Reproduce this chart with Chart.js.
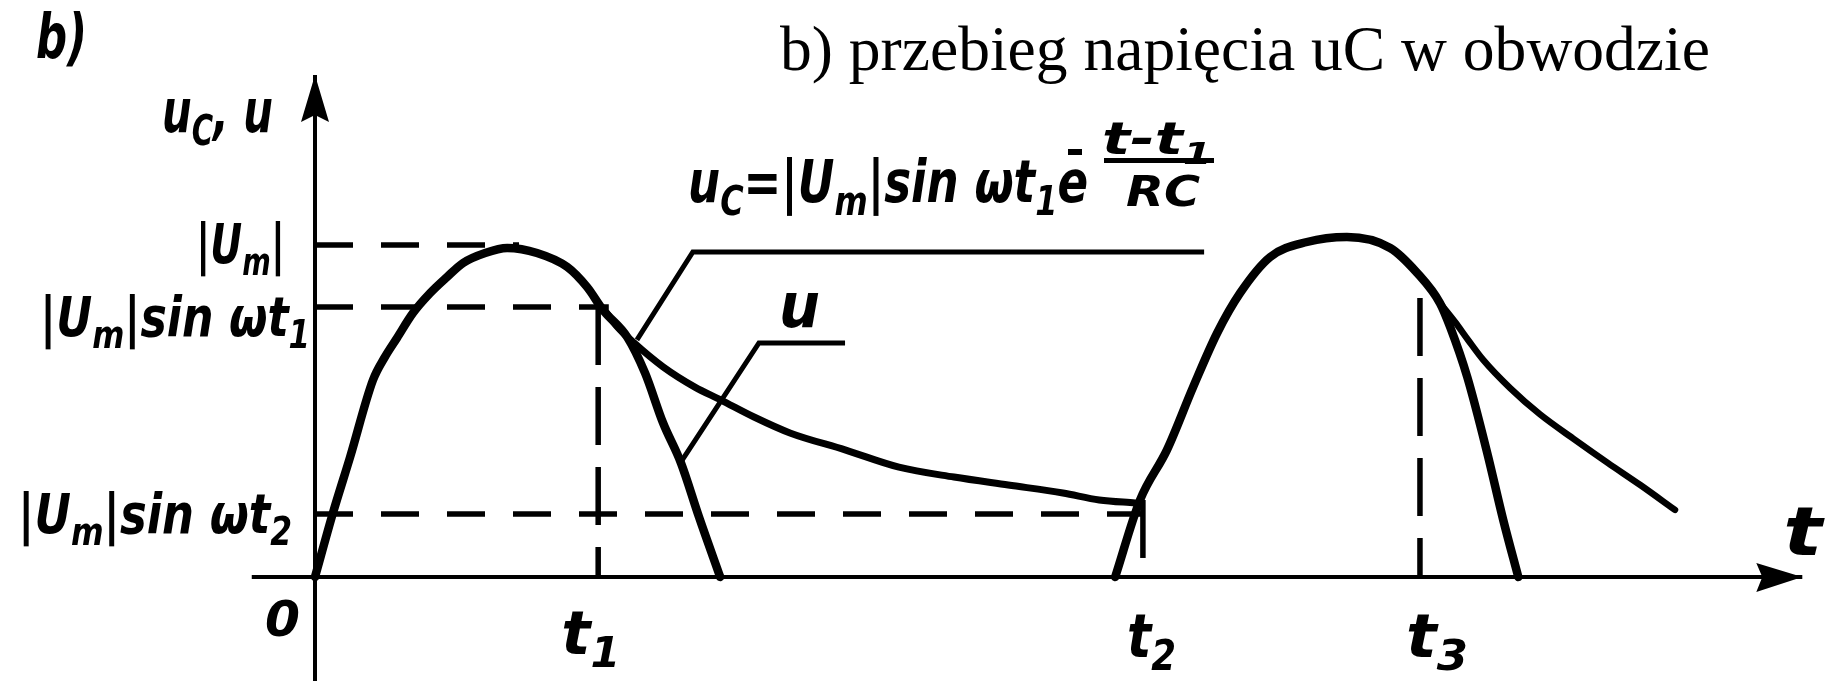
<!DOCTYPE html>
<html lang="pl">
<head>
<meta charset="utf-8">
<title>Przebieg napięcia uC w obwodzie</title>
<script src="https://cdn.jsdelivr.net/npm/chart.js@4/dist/chart.umd.min.js"></script>
<style>
    html, body { margin: 0; padding: 0; background: #fff; }
    #wrap { position: relative; width: 1828px; height: 681px; }
</style>
</head>
<body>
<div id="wrap"><canvas id="wykres"></canvas></div>
<script>
// Czas w umownych jednostkach, napięcie względem |Um| = 1

// pierwsza półfala napięcia źródła u
const sineT1 = [0, 0.44, 0.86, 1.42, 1.7, 2.01, 2.4, 2.82, 3.24, 3.63, 4.17, 4.71, 5.44, 6.18, 6.67, 7.06, 7.65, 8.09, 8.53, 8.97, 9.41, 9.93];
const sineU1 = [0, 0.193, 0.361, 0.593, 0.66, 0.72, 0.795, 0.855, 0.904, 0.946, 0.976, 0.991, 0.976, 0.934, 0.873, 0.804, 0.723, 0.614, 0.464, 0.343, 0.181, 0];

// rozładowanie kondensatora od t1 do t2
const decayT1 = [7.06, 7.4, 7.82, 8.53, 9.31, 9.95, 10.76, 11.64, 12.99, 14.31, 15.66, 16.99, 18.33, 19.22, 20.1];
const decayU1 = [0.81, 0.755, 0.705, 0.633, 0.572, 0.533, 0.482, 0.434, 0.383, 0.331, 0.301, 0.277, 0.253, 0.232, 0.223];

// druga półfala
const sineT2 = [19.61, 20.22, 20.88, 21.52, 22.11, 22.67, 23.41, 24.31, 25.29, 26.35, 27.01, 27.57, 27.82, 28.24, 28.73, 29.12, 29.49];
const sineU2 = [0, 0.232, 0.383, 0.572, 0.735, 0.855, 0.964, 1.009, 1.024, 0.991, 0.916, 0.825, 0.753, 0.602, 0.373, 0.172, 0];

// rozładowanie po t3
const decayT2 = [27.57, 27.94, 28.26, 28.63, 29.29, 30.02, 30.88, 31.69, 32.48, 33.33];
const decayU2 = [0.825, 0.768, 0.714, 0.654, 0.569, 0.49, 0.413, 0.343, 0.277, 0.202];

// poziomy na osi napięcia i gdzie kończy się ich linia pomocnicza
const levels = [1.0, 0.813, 0.19];
const levelNames = ['|U_m|', '|U_m|sin ωt_1', '|U_m|sin ωt_2'];
const levelEnds = [5.0, 7.2, 20.29];

// chwile t1, t2, t3
const instants = [6.94, 20.29, 27.08];
const instantNames = ['t_1', 't_2', 't_3'];
const instantTops = [0.813, 0.232, 0.84];

// zasięg osi (t od ... do grotu, u od ... do grotu)
const axisT = [-1.55, 36.45];
const axisU = [-0.32, 1.512];

// odnośniki do wzoru i do krzywej u
const formulaLeaderT = [21.79, 9.26, 7.89];
const formulaLeaderU = [0.979, 0.979, 0.714];
const uLeaderT = [12.99, 10.88, 8.95];
const uLeaderU = [0.705, 0.705, 0.343];

const pts = (xs, ys) => xs.map((x, i) => ({ x, y: ys[i] }));

function curve(data, width) {
    return {
        data, showLine: true, borderColor: '#000', borderWidth: width,
        cubicInterpolationMode: 'monotone', pointRadius: 0,
        borderCapStyle: 'round', borderJoinStyle: 'round'
    };
}

function straight(data, width, dash) {
    return {
        data, showLine: true, borderColor: '#000', borderWidth: width,
        borderDash: dash || [], tension: 0, pointRadius: 0, borderCapStyle: 'butt'
    };
}

const datasets = [
    straight([{ x: axisT[0], y: 0 }, { x: axisT[1], y: 0 }], 4),
    straight([{ x: 0, y: axisU[0] }, { x: 0, y: axisU[1] }], 4),
    ...levels.map((v, i) => straight([{ x: 0, y: v }, { x: levelEnds[i], y: v }], 5.5, [38, 28])),
    ...instants.map((t, i) => straight([{ x: t, y: instantTops[i] }, { x: t, y: 0 }], 5.5, [58, 22])),
    straight(pts(formulaLeaderT, formulaLeaderU), 5),
    straight(pts(uLeaderT, uLeaderU), 5),
    curve(pts(sineT1, sineU1), 8.5),
    curve(pts(decayT1, decayU1), 7),
    curve(pts(sineT2, sineU2), 8.5),
    curve(pts(decayT2, decayU2), 6.5)
];

// tekst "odręczny": '_' robi z następnego znaku indeks dolny,
// napis jest ściskany w poziomie tak, by zajął podaną szerokość
function drawHand(ctx, str, left, right, baseline, size) {
    const segs = [];
    for (let i = 0; i < str.length; i++) {
        if (str[i] === '_' && i + 1 < str.length) {
            segs.push({ ch: str[i + 1], sub: true });
            i++;
        } else {
            segs.push({ ch: str[i], sub: false });
        }
    }
    const fontFor = s => `italic bold ${s.sub ? Math.round(size * 0.7) : size}px "DejaVu Sans", sans-serif`;
    let natural = 0;
    segs.forEach(s => {
        ctx.font = fontFor(s);
        s.w = ctx.measureText(s.ch).width;
        natural += s.w;
    });
    const sx = (right - left) / natural;
    ctx.save();
    ctx.translate(left, baseline);
    ctx.scale(sx, 1);
    ctx.textBaseline = 'alphabetic';
    ctx.textAlign = 'left';
    let x = 0;
    segs.forEach(s => {
        ctx.font = fontFor(s);
        ctx.fillText(s.ch, x, s.sub ? size * 0.22 : 0);
        x += s.w;
    });
    ctx.restore();
}

const podpisy = {
    id: 'podpisy',
    afterDatasetsDraw(chart) {
        const { ctx, scales: { x, y } } = chart;
        const x0 = x.getPixelForValue(0);
        const y0 = y.getPixelForValue(0);
        ctx.save();
        ctx.fillStyle = '#000';

        // groty osi
        const yTip = y.getPixelForValue(axisU[1]);
        ctx.beginPath();
        ctx.moveTo(x0, yTip);
        ctx.lineTo(x0 + 14, yTip + 47);
        ctx.lineTo(x0, yTip + 40);
        ctx.lineTo(x0 - 14, yTip + 47);
        ctx.closePath();
        ctx.fill();

        const xTip = x.getPixelForValue(axisT[1]);
        ctx.beginPath();
        ctx.moveTo(xTip, y0);
        ctx.lineTo(xTip - 46, y0 - 14);
        ctx.lineTo(xTip - 40, y0);
        ctx.lineTo(xTip - 46, y0 + 15);
        ctx.closePath();
        ctx.fill();

        // opisy poziomów
        const levelBox = [[-119, -30, 18], [-275, -5, 29], [-297, -23, 19]];
        levels.forEach((v, i) => {
            const b = levelBox[i];
            drawHand(ctx, levelNames[i], x0 + b[0], x0 + b[1], y.getPixelForValue(v) + b[2], 56);
        });

        // opisy chwil
        const instantBox = [[-37, 22, 77], [-16, 33, 80], [-14, 48, 80]];
        instants.forEach((t, i) => {
            const b = instantBox[i];
            const px = x.getPixelForValue(t);
            drawHand(ctx, instantNames[i], px + b[0], px + b[1], y0 + b[2], 60);
        });

        drawHand(ctx, '0', x0 - 50, x0 - 15, y0 + 59, 50);
        drawHand(ctx, 't', xTip - 19, xTip + 20, y0 - 22, 68);
        drawHand(ctx, 'u_C, u', x0 - 153, x0 - 42, 132, 60);
        drawHand(ctx, 'b)', 36, 87, 58, 62);
        drawHand(ctx, 'u', 779, 820, 327, 62);

        // wzór na napięcie kondensatora
        drawHand(ctx, 'u_C=|U_m|sin ωt_1e', 688, 1088, 202, 58);
        ctx.fillRect(1068, 149, 14, 6);
        drawHand(ctx, 't-t_1', 1102, 1212, 154, 44);
        ctx.fillRect(1104, 158, 110, 5);
        drawHand(ctx, 'RC', 1126, 1200, 206, 42);

        // podpis rysunku
        const caption = 'b) przebieg napięcia uC w obwodzie';
        ctx.font = '60px "Liberation Serif", serif';
        const size = 60 * 930 / ctx.measureText(caption).width;
        ctx.font = `${size}px "Liberation Serif", serif`;
        ctx.textBaseline = 'alphabetic';
        ctx.textAlign = 'left';
        ctx.fillText(caption, 780, 70);

        ctx.restore();
    }
};

new Chart(document.getElementById('wykres'), {
    type: 'scatter',
    data: { datasets },
    options: {
        responsive: true,
        maintainAspectRatio: false,
        animation: false,
        events: [],
        layout: { padding: 0 },
        scales: {
            x: { type: 'linear', display: false, min: -7.72, max: 37.08 },
            y: { type: 'linear', display: false, min: -0.3133, max: 1.738 }
        },
        plugins: {
            legend: { display: false },
            tooltip: { enabled: false },
            title: { display: false }
        }
    },
    plugins: [podpisy]
});
</script>
</body>
</html>
